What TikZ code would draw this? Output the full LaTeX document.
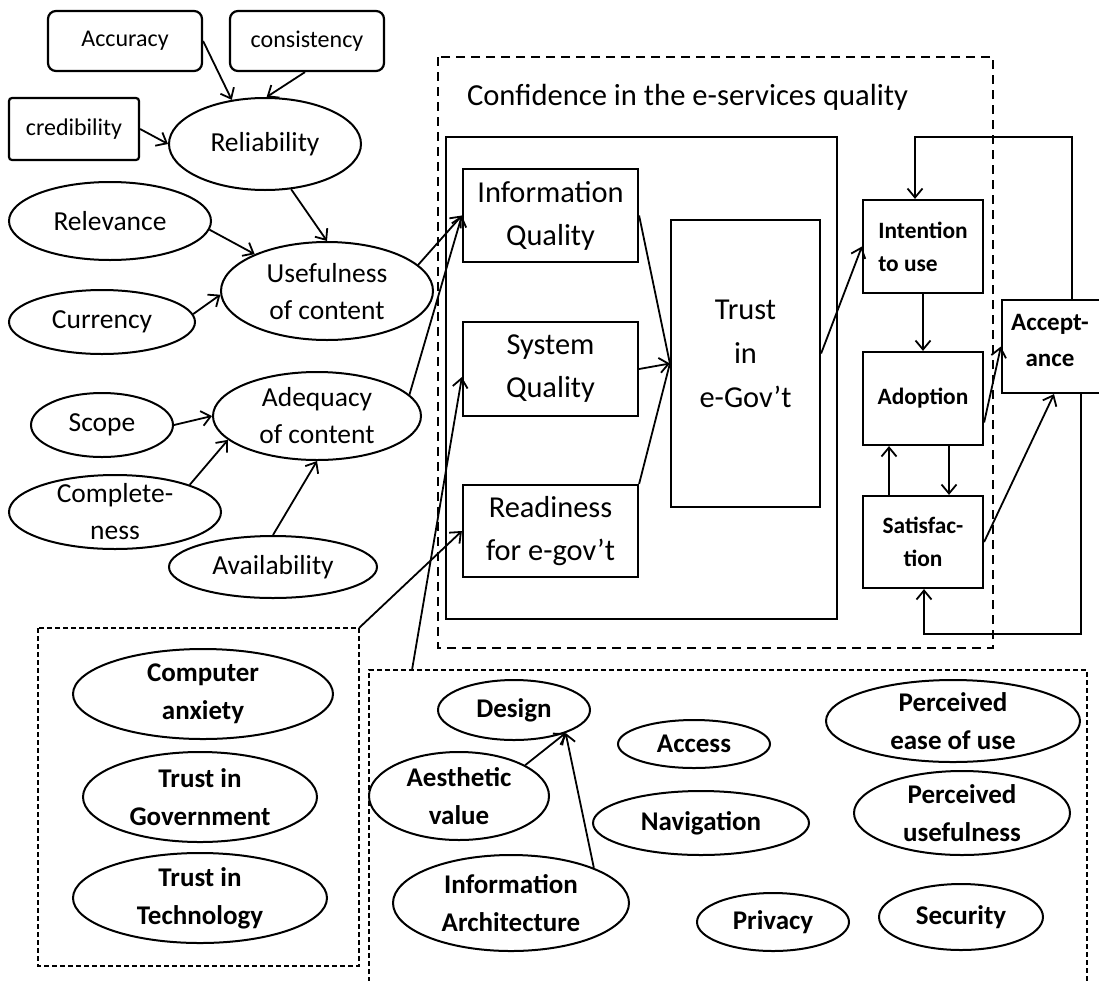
\documentclass[tikz,border=0pt]{standalone}
\usepackage{fontspec}
\setmainfont{Carlito}
\usetikzlibrary{shapes.geometric,arrows.meta,calc}
\newcommand\myfsmall{\fontsize{24}{28}\selectfont}
\newcommand\myfell{\fontsize{27.5}{37}\selectfont}
\newcommand\myfbig{\fontsize{30.4}{43}\selectfont}
\newcommand\myftrust{\fontsize{30.4}{44}\selectfont}
\newcommand\myfbold{\fontsize{23.4}{33}\selectfont\bfseries}
\newcommand\myfacc{\fontsize{25}{36}\selectfont\bfseries}
\newcommand\myfbot{\fontsize{27}{38}\selectfont\bfseries}
\begin{document}
\begin{tikzpicture}[x=1pt,y=-1pt,line width=2pt,
  arr/.style={line width=1.8pt,-{Straight Barb[length=9pt,width=15pt,line width=1.8pt]}},
  plain/.style={line width=1.8pt},
  ell/.style={draw,ellipse,inner sep=0pt,line width=2pt},
  rbox/.style={draw,rectangle,inner sep=0pt,line width=2.2pt,align=center},
  eltxt/.style={align=center,font=\myfell,inner sep=0pt},
  bottxt/.style={align=center,font=\myfbot,inner sep=0pt},
  confbox/.style={line width=2pt,dash pattern=on 9pt off 6pt},
  grpbox/.style={line width=2pt,dash pattern=on 5pt off 3pt},
  qbox/.style={rbox,minimum width=175pt,minimum height=93pt,font=\myfbig},
  sbox/.style={rbox,minimum width=120pt,minimum height=93pt,font=\myfbold}
]
\useasboundingbox (0,0) rectangle (1099,980);

% ---------- left top group ----------
\node[rbox,rounded corners=8pt,minimum width=154pt,minimum height=60pt,font=\myfsmall] (acc) at (125,41) {Accuracy};
\node[rbox,rounded corners=8pt,minimum width=154pt,minimum height=60pt,font=\myfsmall] (cons) at (307,41) {consistency};
\node[rbox,rounded corners=3pt,minimum width=130pt,minimum height=62pt,font=\myfsmall] (cred) at (74,129) {credibility};

\node[ell,minimum width=192pt,minimum height=92pt] (rel) at (265,144) {};
\node[eltxt] (relT) at (rel.center) {Reliability};
\node[ell,minimum width=202pt,minimum height=78pt] (relev) at (110,221) {};
\node[eltxt] (relevT) at (relev.center) {Relevance};
\node[ell,minimum width=212pt,minimum height=98pt] (use) at (327,291) {};
\node[eltxt] (useT) at (327,292) {Usefulness\\of content};
\node[ell,minimum width=186pt,minimum height=64pt] (curr) at (102,322) {};
\node[eltxt] (currT) at (curr.center) {Currency};
\node[ell,minimum width=142pt,minimum height=64pt] (scope) at (102,425) {};
\node[eltxt] (scopeT) at (scope.center) {Scope};
\node[ell,minimum width=208pt,minimum height=88pt] (adeq) at (317,416) {};
\node[eltxt] (adeqT) at (adeq.center) {Adequacy\\of content};
\node[ell,minimum width=212pt,minimum height=74pt] (compl) at (115,512) {};
\node[eltxt] (complT) at (compl.center) {Complete-\\ness};
\node[ell,minimum width=208pt,minimum height=62pt] (avail) at (273,567) {};
\node[eltxt] (availT) at (avail.center) {Availability};

\draw[arr] (acc.east) -- (rel.127);
\draw[arr] ([xshift=-2pt]cons.south) -- (rel.88);
\draw[arr] (cred.east) -- (rel.west);
\draw[arr] (rel.-60) -- (use.north);
\draw[arr] (relev.-5) -- (use.153);
\draw[arr] (curr.5) -- (use.182);
\draw[arr] (scope.east) -- (adeq.west);
\draw[arr] (compl.20) -- (adeq.195);
\draw[arr] (avail.north) -- (adeq.south);

% ---------- confidence box ----------
\draw[confbox] (438,57) rectangle (993,648);
\node[anchor=west,font=\fontsize{30.6}{36}\selectfont,inner sep=0pt] (title) at (466,97) {Confidence in the e-services quality};
\draw[line width=2.2pt] (446,137) rectangle (837,619);

\node[qbox] (iq) at (550.5,215.5) {Information\\Quality};
\node[qbox,minimum height=94pt] (sq) at (550.5,369) {System\\Quality};
\node[qbox,minimum height=92pt] (rd) at (550.5,531) {Readiness\\for e-gov’t};
\node[rbox,minimum width=149pt,minimum height=287pt] (trust) at (745.5,363.5) {};
\node[align=center,font=\myftrust,inner sep=0pt] (trustT) at (745.5,354) {Trust\\in\\e-Gov’t};

\node[sbox,align=left] (int) at (923,246.5) {Intention\\to use};
\node[sbox] (adop) at (923,398.5) {Adoption};
\node[sbox,minimum height=92pt] (sat) at (923,542) {Satisfac-\\tion};
\node[rbox,minimum width=104pt,minimum height=93pt] (acpt) at (1054,346.5) {};
\node[align=center,font=\myfacc,inner sep=0pt] (acptT) at (1050,340) {Accept-\\ance};

\draw[arr] (use.16) -- (iq.west);
\draw[arr] (adeq.13) -- (iq.west);
\draw[plain] (iq.east) -- (trust.west);
\draw[arr] (sq.east) -- (trust.west);
\draw[plain] (rd.north east) -- (trust.west);
\draw[arr] ([yshift=10pt]trust.east) -- (int.west);
\draw[arr] (int.south) -- (adop.north);
\draw[arr] ([xshift=26pt]adop.south) -- ([xshift=26pt]sat.north);
\draw[arr] ([xshift=-34pt]sat.north) -- ([xshift=-34pt]adop.south);
\draw[arr] ([yshift=-24pt]adop.east) -- (acpt.west);
\draw[arr] (sat.east) -- (acpt.south);
\coordinate (looptop) at (915,137);
\coordinate (loopbot) at (924,634);
\draw[arr] ([xshift=18pt]acpt.north) |- (looptop) -- ([xshift=-8pt]int.north);
\draw[arr] ([xshift=27pt]acpt.south) |- (loopbot) -- ([xshift=1pt]sat.south);

% ---------- bottom left group ----------
\draw[grpbox] (38,628) rectangle (359,966);
\coordinate (lcorner) at (359,628);
\draw[arr] (lcorner) -- (rd.west);
\node[ell,minimum width=260pt,minimum height=90pt] (canx) at (203,694) {};
\node[bottxt] (canxT) at (canx.center) {Computer\\anxiety};
\node[ell,minimum width=234pt,minimum height=90pt] (tgov) at (200,797) {};
\node[bottxt] (tgovT) at (tgov.center) {Trust in\\Government};
\node[ell,minimum width=254pt,minimum height=90pt] (ttech) at (200,898) {};
\node[bottxt] (ttechT) at (ttech.center) {Trust in\\Technology};

% ---------- bottom right group ----------
\draw[grpbox] (369,982) -- (369,670) -- (1087,670) -- (1087,982);
\coordinate (rtop) at (412,670);
\draw[arr] (rtop) -- ([yshift=-8pt]sq.west);
\node[ell,minimum width=152pt,minimum height=60pt] (design) at (514,710) {};
\node[bottxt] (designT) at (design.center) {Design};
\node[ell,minimum width=180pt,minimum height=88pt] (aes) at (459,796) {};
\node[bottxt] (aesT) at (aes.center) {Aesthetic\\value};
\node[ell,minimum width=236pt,minimum height=96pt] (ia) at (511,903) {};
\node[bottxt] (iaT) at (ia.center) {Information\\Architecture};
\node[ell,minimum width=152pt,minimum height=48pt] (access) at (694,744) {};
\node[bottxt] (accessT) at (access.center) {Access};
\node[ell,minimum width=216pt,minimum height=64pt] (nav) at (701,823) {};
\node[bottxt] (navT) at (nav.center) {Navigation};
\node[ell,minimum width=254pt,minimum height=82pt] (peou) at (953,721) {};
\node[bottxt] (peouT) at (peou.center) {Perceived\\ease of use};
\node[ell,minimum width=216pt,minimum height=84pt] (pu) at (962,813) {};
\node[bottxt] (puT) at (pu.center) {Perceived\\usefulness};
\node[ell,minimum width=152pt,minimum height=58pt] (priv) at (773,922) {};
\node[bottxt] (privT) at (priv.center) {Privacy};
\node[ell,minimum width=164pt,minimum height=66pt] (sec) at (961,917) {};
\node[bottxt] (secT) at (sec.center) {Security};

\draw[arr] (aes.25) -- (design.-24);
\draw[arr] (ia.23) -- (design.-24);
\end{tikzpicture}
\end{document}
